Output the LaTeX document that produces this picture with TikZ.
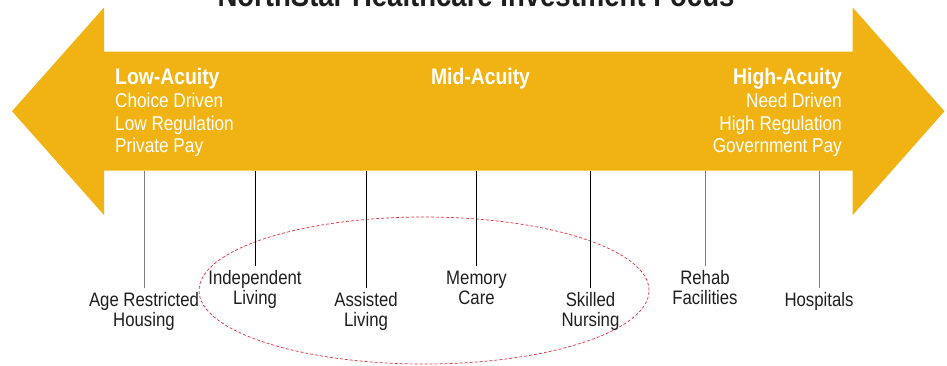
\documentclass[tikz,border=0pt]{standalone}
\usepackage{fontspec}
\setmainfont{Liberation Sans}[FakeStretch=0.86]
\definecolor{acuity}{RGB}{240,179,19}
\definecolor{labelgray}{RGB}{30,30,30}
\definecolor{ringred}{RGB}{232,45,55}
\tikzset{
  head/.style={font=\bfseries\fontsize{22.5}{23}\selectfont, text=white, inner sep=0pt},
  sub/.style={font=\fontsize{20}{23}\selectfont, text=white, inner sep=0pt},
  care/.style={font=\fontsize{19.5}{20}\selectfont, text=labelgray, align=center,
    anchor=north, inner xsep=0pt, inner ysep=4.5pt},
  tick/.style={line width=0.8pt, black},
  faint/.style={line width=0.8pt, gray}
}

\begin{document}
\begin{tikzpicture}[x=1pt,y=-1pt]
\useasboundingbox (0,0) rectangle (947,366);
\node[anchor=base, inner sep=0pt, text=labelgray, font=\bfseries\fontsize{32}{34}\selectfont]
  (title) at (476,7) {NorthStar Healthcare Investment Focus};
% the double arrow
\fill[acuity] (12,111.2) -- (104,7.5) -- (104,51.7) -- (852.7,51.7) -- (852.7,7.5)
  -- (944.5,111.2) -- (852.7,215) -- (852.7,170.7) -- (104,170.7) -- (104,215) -- cycle;
\node[head, anchor=base west] (low) at (115,84.3) {Low-Acuity};
\node[sub, anchor=base west] (low1) at (115,107.3) {Choice Driven};
\node[sub, anchor=base west] (low2) at (115,130.5) {Low Regulation};
\node[sub, anchor=base west] (low3) at (115,153) {Private Pay};
\node[head, anchor=base] (mid) at (480.5,84.3) {Mid-Acuity};
\node[head, anchor=base east] (high) at (842,84.3) {High-Acuity};
\node[sub, anchor=base east] (high1) at (842,107.3) {Need Driven};
\node[sub, anchor=base east] (high2) at (842,130.5) {High Regulation};
\node[sub, anchor=base east] (high3) at (842,153) {Government Pay};
% senior housing ring
\draw[ringred, line width=0.7pt, dash pattern=on 3pt off 2pt]
  (424,290.5) ellipse [x radius=225pt, y radius=73.5pt];
% care settings
\coordinate (p1) at (144,170.7);
\coordinate (p2) at (255,170.7);
\coordinate (p3) at (366,170.7);
\coordinate (p4) at (476.5,170.7);
\coordinate (p5) at (590.5,170.7);
\coordinate (p6) at (705,170.7);
\coordinate (p7) at (819,170.7);
\node[care] (age) at (144,288) {Age Restricted\\Housing};
\node[care] (indep) at (255,266) {Independent\\Living};
\node[care] (assist) at (366,288) {Assisted\\Living};
\node[care] (memory) at (476.5,266) {Memory\\Care};
\node[care] (skilled) at (590.5,288) {Skilled\\Nursing};
\node[care] (rehab) at (705,266) {Rehab\\Facilities};
\node[care] (hosp) at (819,288) {Hospitals};
\draw[faint] (p1) -- (age);
\draw[tick] (p2) -- (indep);
\draw[tick] (p3) -- (assist);
\draw[tick] (p4) -- (memory);
\draw[tick] (p5) -- (skilled);
\draw[faint] (p6) -- (rehab);
\draw[faint] (p7) -- (hosp);
\end{tikzpicture}
\end{document}
